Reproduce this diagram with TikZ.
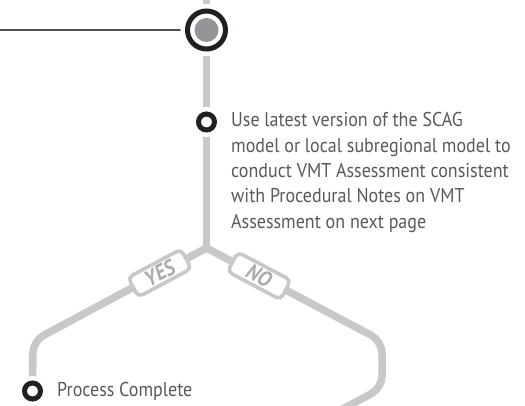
\documentclass[tikz,border=0pt]{standalone}
\usepackage{fontspec}
\setmainfont{PT Sans}[FakeStretch=0.9]
\usepackage{xcolor}
\usepackage{tikz}
\usetikzlibrary{positioning,backgrounds}

\definecolor{ringblack}{HTML}{231F20}
\definecolor{innergray}{HTML}{939598}
\definecolor{trackgray}{HTML}{C7C8CA}
\definecolor{textgray}{HTML}{58595B}
\definecolor{leadgray}{HTML}{4D4D4F}
\definecolor{taggray}{HTML}{ABADB0}

\begin{document}
\begin{tikzpicture}[
    x=1pt, y=-1pt,
    track/.style={draw=trackgray, line width=7.5pt, rounded corners=12pt},
    lead/.style={draw=leadgray, line width=1.4pt},
    ring/.style={circle, draw=ringblack, line width=5pt, fill=white, inner sep=0pt, minimum size=16pt,
                 preaction={draw=white, line width=14pt}},
    bigring/.style={ring, minimum size=38pt},
    core/.style={circle, fill=innergray, inner sep=0pt, minimum size=24pt},
    note/.style={text=textgray, align=left, inner sep=0pt, font=\fontsize{20}{25.3}\selectfont},
    tag/.style={rectangle, rounded corners=5pt, draw=trackgray, line width=3.6pt, fill=white, sloped,
                text=taggray, inner sep=0pt, minimum width=60pt, minimum height=22pt,
                font=\fontsize{22}{22}\selectfont\bfseries\itshape}
]
\clip (0,0) rectangle (525,406);

% Start of this step
\node[bigring] (top) at (206.5,30) {};
\node[core] (topcore) at (top.center) {};
\coordinate (entry) at (206.5,0);
\coordinate (leadin) at (0,30);

% VMT assessment
\node[ring] (step1) at (206.5,122) {};
\node[note, right=14pt of step1, anchor=north west, yshift=9.5pt] (step1txt)
    {Use latest version of the SCAG\\model or local subregional model to\\conduct VMT Assessment consistent\\with Procedural Notes on VMT\\Assessment on next page};

% Branches
\coordinate (fork) at (206.5,248);
\coordinate (bendL) at (33,341);
\coordinate (bendR) at (382,341);
\coordinate (turnR) at (382,388);
\coordinate (exit) at (322,420);

% End point
\node[ring] (done) at (32.5,391) {};
\node[note, right=14pt of done] (donetxt) {Process Complete};

% Track lines
\begin{scope}[on background layer]
\draw[lead] (leadin) -- (top);
\draw[track] (entry) -- (fork);
\draw[track] (fork) -- node[tag, pos=0.27] {YES} (bendL) -- (done);
\draw[track] (fork) -- node[tag, pos=0.30] {NO} (bendR) -- (turnR) -- (exit);
\end{scope}

\end{tikzpicture}
\end{document}
